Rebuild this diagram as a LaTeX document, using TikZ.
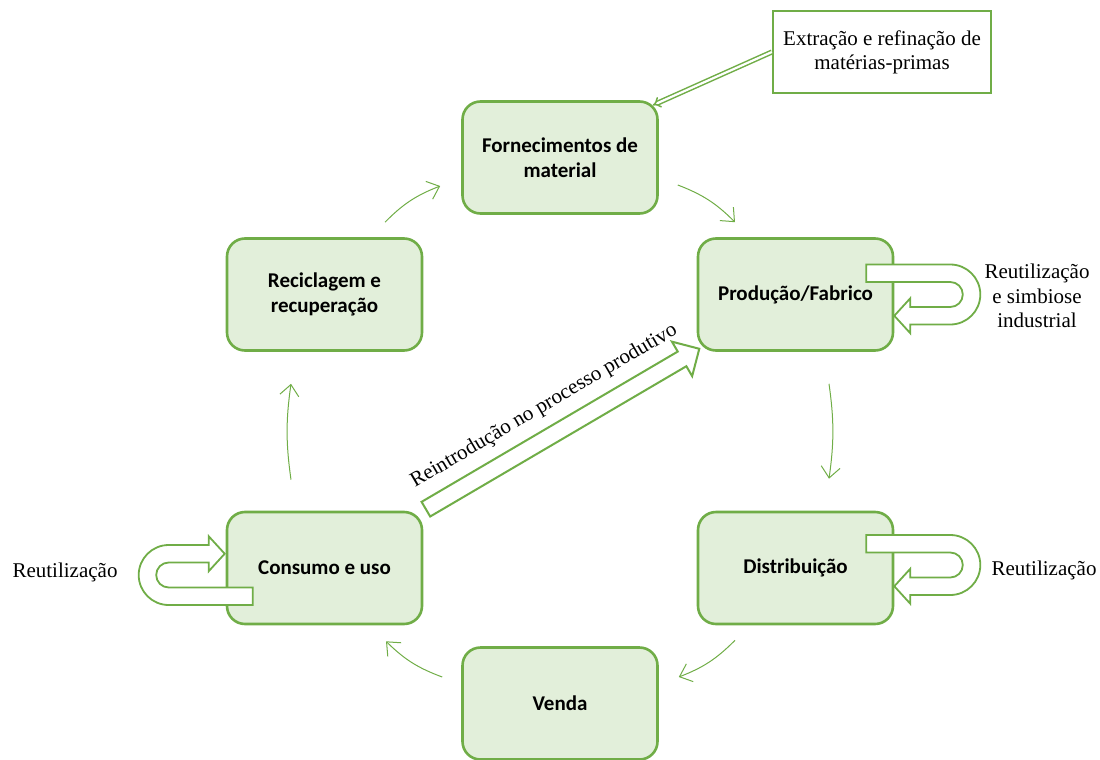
\documentclass[tikz,border=0pt]{standalone}
\usepackage{fontspec}
\setmainfont{Liberation Serif}
\newfontfamily\boxfont{Carlito}
\usetikzlibrary{arrows.meta}
\definecolor{vgreen}{HTML}{70AD47}
\definecolor{vfill}{HTML}{E2EFDA}
\tikzset{
  uturn/.pic={
    \draw[vgreen, line width=1.8pt, fill=white] (-84,-30) -- (0,-30) arc[start angle=-90, end angle=90, radius=30]
      -- (-40,30) -- (-40,38.75) -- (-56,21.25) -- (-40,3.75) -- (-40,12.5) -- (0,12.5)
      arc[start angle=90, end angle=-90, radius=12.5] -- (-84,-12.5) -- cycle;
  }
}

\begin{document}
\begin{tikzpicture}[x=1pt, y=-1pt,
  etapa/.style={draw=vgreen, line width=2.6pt, fill=vfill, rounded corners=18pt, minimum width=195pt,
    minimum height=112pt, align=center, font=\boxfont\bfseries\fontsize{21}{24.5}\selectfont},
  caixa/.style={draw=vgreen, line width=2.2pt, fill=white, minimum width=218pt, minimum height=82pt,
    align=center, font=\fontsize{21}{24}\selectfont},
  rotulo/.style={align=center, font=\fontsize{21}{24.5}\selectfont},
  fluxo/.style={draw=vgreen, line width=1pt, -{Straight Barb[length=11pt, width=19pt]}},
  duplo/.style={draw=vgreen, line width=1.5pt, double=white, double distance=2.2pt, -{Implies}},
  oco/.style={draw=vgreen, line width=2pt, fill=white}]
  \useasboundingbox (0,0) rectangle (1100,760);

  \node[etapa] (forn) at (560,157.5) {Fornecimentos de\\material};
  \node[etapa] (prod) at (795.5,294.5) {Produção/Fabrico};
  \node[etapa] (dist) at (795.5,568) {Distribuição};
  \node[etapa] (venda) at (560,703.5) {Venda};
  \node[etapa] (cons) at (324.5,568) {Consumo e uso};
  \node[etapa] (rec) at (324.5,294.5) {Reciclagem e\\recuperação};
  \node[caixa] (ext) at (882,52) {Extração e refinação de\\matérias-primas};

  \draw[duplo] (ext.west) -- ([xshift=-6pt,yshift=-5pt]forn.north east);

  \draw[fluxo] ([xshift=60.5pt,yshift=15pt]rec.north) to[bend left=12] ([xshift=-21pt,yshift=-28.5pt]forn.west);
  \draw[fluxo] ([xshift=19pt,yshift=-27.5pt]forn.east) to[bend left=12] ([xshift=-60.5pt,yshift=15pt]prod.north);
  \draw[fluxo] ([xshift=33.5pt,yshift=-32pt]prod.south) to[bend left=8] ([xshift=33.5pt,yshift=32pt]dist.north);
  \draw[fluxo] ([xshift=-60.5pt,yshift=-15pt]dist.south) to[bend left=12] ([xshift=20pt,yshift=26.5pt]venda.east);
  \draw[fluxo] ([xshift=-19pt,yshift=26.5pt]venda.west) to[bend left=12] ([xshift=61.5pt,yshift=-16pt]cons.south);
  \draw[fluxo] ([xshift=-33.5pt,yshift=31pt]cons.north) to[bend left=8] ([xshift=-33.5pt,yshift=-32pt]rec.south);

  \begin{scope}[shift={(cons.north east)}, rotate=30.4]
    \draw[oco] (3,-8.5) -- (300,-8.5) -- (300,-20) -- (320,0) -- (300,20) -- (300,8.5) -- (3,8.5) -- cycle;
    \node[transform shape, font=\fontsize{21}{24}\selectfont] (reintro) at (157,-29) {Reintrodução no processo produtivo};
  \end{scope}

  \pic at ([xshift=56pt]prod.east) {uturn};
  \pic at ([xshift=56pt,yshift=3pt]dist.east) {uturn};
  \pic[rotate=180] at ([xshift=-57pt,yshift=-7pt]cons.west) {uturn};

  \node[rotulo] (lprod) at (1037,296) {Reutilização\\e simbiose\\industrial};
  \node[rotulo] (ldist) at (1044,570) {Reutilização};
  \node[rotulo] (lcons) at (65,572) {Reutilização};
\end{tikzpicture}
\end{document}
